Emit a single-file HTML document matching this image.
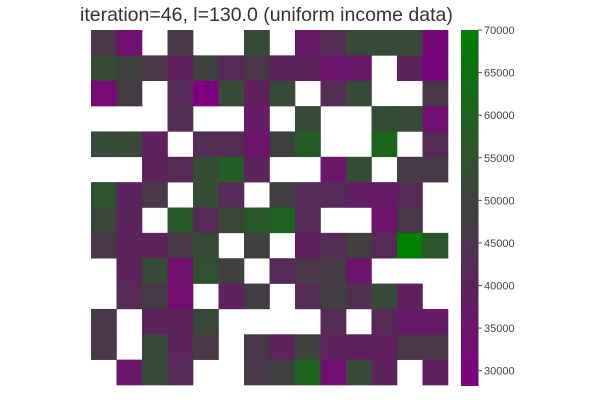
<!DOCTYPE html>
<html><head><meta charset="utf-8"><style>
html,body{margin:0;padding:0;background:#fff;width:600px;height:400px;overflow:hidden}
svg{display:block;font-family:"Liberation Sans",sans-serif}
</style></head><body>
<svg id="chart" width="600" height="400">
<text x="80" y="21" font-size="19.5" fill="#333">iteration=46, l=130.0 (uniform income data)</text>
<g id="cells"></g>
<g id="cbar"></g>
</svg>
<script>
const N = null;
const rowsData = [
[46500,33000,N,46500,N,N,52000,N,36000,43000,52000,52000,52000,31000],
[52500,49500,46000,38500,49500,42000,46000,40000,40000,35000,36000,N,40000,30500],
[32000,47500,N,42000,28300,52000,38500,52000,N,43000,52000,N,N,46000],
[N,N,N,43000,N,N,37000,N,52000,N,N,53000,52000,33000],
[52000,52000,39000,N,43000,43000,35000,49500,58000,N,N,61000,N,42000],
[N,N,39500,42000,53000,58000,40000,N,N,35000,53000,N,47000,47000],
[55000,40000,46500,N,53000,42000,N,48000,42000,42000,38000,37000,42000,N],
[51000,39500,N,57000,42000,51500,57000,60000,41500,N,N,35000,46500,N],
[46500,39500,39500,46500,52500,N,49500,N,38500,43000,48500,42000,70000,56000],
[N,39500,52000,33000,54000,49500,N,42000,46500,47500,35000,N,N,N],
[N,42500,47000,33000,N,39000,48000,N,42500,48500,43500,52000,38500,N],
[46500,N,39500,39500,51500,N,N,N,N,43000,N,41500,37000,37000],
[46500,N,52000,39500,46500,N,46000,39500,49500,39500,38500,38500,46500,46500],
[N,35500,52000,41500,N,N,46500,49500,61000,33000,52000,39500,N,38500]
];
const vMin = 28200, vMax = 70000;
const cbTicks = [30000,35000,40000,45000,50000,55000,60000,65000,70000];
const ns = "http://www.w3.org/2000/svg";
const gx0 = 91, gx1 = 448, gy0 = 30, gy1 = 385;
const nC = 14, nR = 14;
const cw = (gx1-gx0)/nC, ch = (gy1-gy0)/nR;
function color(v){
  const t = Math.max(0,Math.min(1,(v-vMin)/(vMax-vMin)));
  const a = Math.round(128*(1-t)), g = Math.round(128*t);
  return `rgb(${a},${g},${a})`;
}
function xPos(c){return gx0 + c*cw;}
function yPos(r){return gy0 + r*ch;}
const cells = document.getElementById('cells');
rowsData.forEach((row,r)=>row.forEach((v,c)=>{
  if(v===null) return;
  const el = document.createElementNS(ns,'rect');
  el.setAttribute('x', xPos(c)); el.setAttribute('y', yPos(r));
  el.setAttribute('width', cw+0.3); el.setAttribute('height', ch+0.3);
  el.setAttribute('fill', color(v));
  
  
  cells.appendChild(el);
}));
// colorbar
const cb = document.getElementById('cbar');
const cbx = 461, cbw = 17, cby0 = 30, cby1 = 386;
function cbY(v){ return cby1 - (v-vMin)/(vMax-vMin)*(cby1-cby0); }
const defs = document.createElementNS(ns,'defs');
defs.innerHTML = '<linearGradient id="grad" x1="0" y1="1" x2="0" y2="0"><stop offset="0" stop-color="rgb(128,0,128)"/><stop offset="0.5" stop-color="rgb(64,64,64)"/><stop offset="1" stop-color="rgb(0,128,0)"/></linearGradient>';
cb.appendChild(defs);
const bar = document.createElementNS(ns,'rect');
bar.setAttribute('x',cbx); bar.setAttribute('y',cby0); bar.setAttribute('width',cbw); bar.setAttribute('height',cby1-cby0);
bar.setAttribute('fill','url(#grad)');


cb.appendChild(bar);
const axl = document.createElementNS(ns,'line');
axl.setAttribute('x1',cbx+cbw+0.5); axl.setAttribute('x2',cbx+cbw+0.5); axl.setAttribute('y1',cby0); axl.setAttribute('y2',cby1);
axl.setAttribute('stroke','#999');
cb.appendChild(axl);
cbTicks.forEach(t=>{
  const y = cbY(t);
  const l = document.createElementNS(ns,'line');
  l.setAttribute('x1',cbx+cbw); l.setAttribute('x2',cbx+cbw+4); l.setAttribute('y1',y); l.setAttribute('y2',y);
  l.setAttribute('stroke','#555');
  
  
  cb.appendChild(l);
  const tx = document.createElementNS(ns,'text');
  tx.setAttribute('x',cbx+cbw+6); tx.setAttribute('y',y+4);
  tx.setAttribute('font-size','11'); tx.setAttribute('fill','#444');
  tx.textContent = t;
  
  
  cb.appendChild(tx);
});
</script>
</body></html>
